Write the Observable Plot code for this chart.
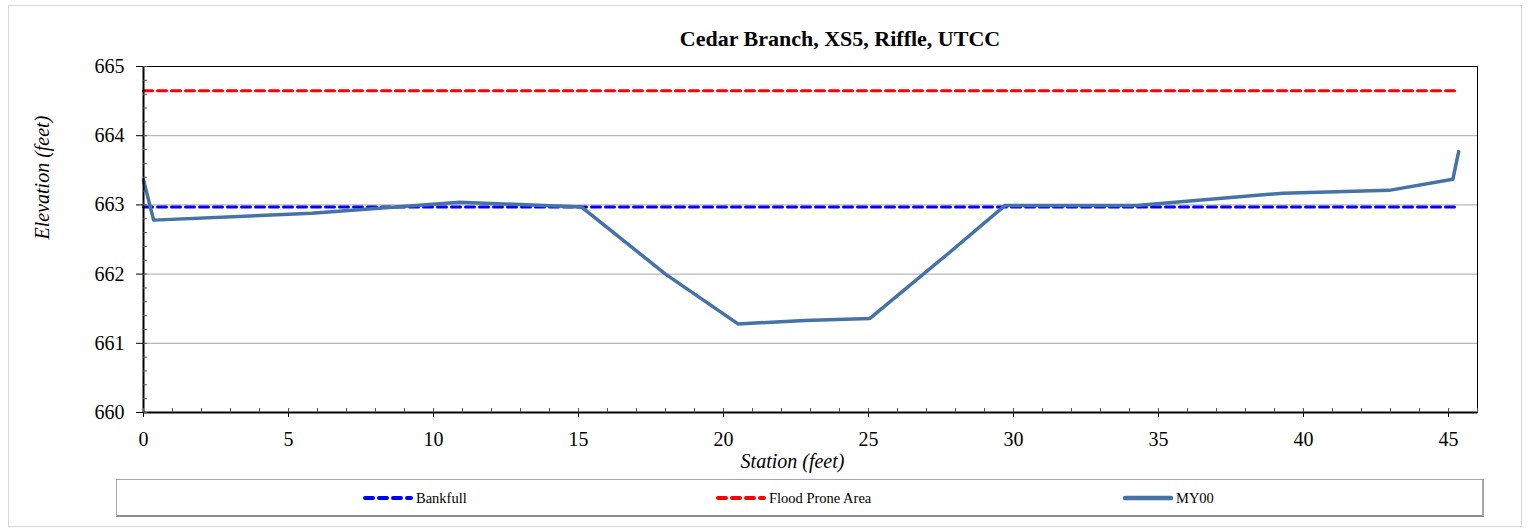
<!DOCTYPE html>
<html>
<head>
<meta charset="utf-8">
<script src="https://cdn.jsdelivr.net/npm/d3@7"></script>
<script src="https://cdn.jsdelivr.net/npm/@observablehq/plot@0.6"></script>
<style>
  body { margin: 0; background: #fff; font-family: "Liberation Serif", serif; }
  #wrap { position: relative; width: 1531px; height: 530px; overflow: hidden; font-family: "Liberation Serif", serif; }
  #outer { position: absolute; left: 8px; top: 5px; width: 1514px; height: 522px; border: 1px solid #d9d9d9; box-sizing: border-box; }
  #chart { position: absolute; left: 0; top: 0; }
  #chart svg, #chart svg text, #chart svg g { font-family: "Liberation Serif", serif !important; }
  #title { position: absolute; top: 26px; left: 840px; transform: translateX(-50%); font-family: "Liberation Serif", serif; font-weight: bold; font-size: 22px; white-space: nowrap; color: #000; }
  #legend { position: absolute; left: 116px; top: 479px; width: 1368px; height: 38px; border: 1px solid #a6a6a6; border-bottom: 2px solid #8c8c8c; border-right: 2px solid #a6a6a6; box-sizing: border-box; }
  .item { position: absolute; top: 0; height: 36px; display: flex; align-items: center; font-family: "Liberation Serif", serif; font-size: 14.5px; color: #000; white-space: nowrap; }
  .item svg { margin-right: 3px; }
</style>
</head>
<body>
<div id="wrap">
  <div id="outer"></div>
  <div id="chart"></div>
  <div id="title"></div>
  <div id="legend"></div>
</div>
<script>
// ---- data ----
const chartTitle = "Cedar Branch, XS5, Riffle, UTCC";
const xLabel = "Station (feet)";
const yLabel = "Elevation (feet)";
const stations   = [0, 0.35, 5.8, 10.9, 15.1, 18.0, 20.5, 22.8, 25.05, 27.7, 29.7, 34.25, 39.3, 42.95, 45.15, 45.35];
const elevations = [663.36, 662.78, 662.88, 663.04, 662.97, 662.0, 661.28, 661.33, 661.36, 662.28, 662.99, 662.99, 663.17, 663.21, 663.37, 663.77];
const bankfullElev = 662.97;
const floodElev = 664.65;
const levelStations = [0, 45.35];
const xTicks = [0, 5, 10, 15, 20, 25, 30, 35, 40, 45];
const yTicks = [660, 661, 662, 663, 664, 665];
const seriesNames = ["Bankfull", "Flood Prone Area", "MY00"];
const seriesColors = ["#0000ff", "#ff0000", "#4572a7"];

// ---- tables ----
const my00 = stations.map((s, i) => ({x: s, y: elevations[i]}));
const bankfull = levelStations.map(s => ({x: s, y: bankfullElev}));
const flood = levelStations.map(s => ({x: s, y: floodElev}));
const xMinor = d3.range(0, 47, 1);
const yMinor = d3.range(0, 26, 1).map(i => 660 + i * 0.2);

const serif = "'Liberation Serif', serif";
const plot = Plot.plot({
  width: 1531,
  height: 530,
  marginLeft: 143,
  marginRight: 54,
  marginTop: 66,
  marginBottom: 118,
  style: { fontFamily: serif, background: "transparent", color: "#000" },
  x: { domain: [0, 46] },
  y: { domain: [660, 665] },
  marks: [
    Plot.gridY([661, 662, 663, 664], { stroke: "#a6a6a6", strokeOpacity: 1, strokeWidth: 1 }),
    Plot.line(flood, { x: "x", y: "y", stroke: seriesColors[1], strokeWidth: 3, strokeDasharray: "9,5" }),
    Plot.line(bankfull, { x: "x", y: "y", stroke: seriesColors[0], strokeWidth: 3, strokeDasharray: "9,5" }),
    Plot.line(my00, { x: "x", y: "y", stroke: seriesColors[2], strokeWidth: 3.5, strokeLinejoin: "round" }),
    Plot.frame({ stroke: "#000", strokeWidth: 1 }),
    Plot.ruleX([0], { stroke: "#000", strokeWidth: 2 }),
    Plot.ruleY([660], { stroke: "#000", strokeWidth: 2 }),
    Plot.axisY(yTicks, { tickSize: 7, tickPadding: 12, fontSize: 20, fontFamily: serif, tickFormat: d => String(d), label: null }),
    Plot.axisY(yMinor, { tickSize: -4, tickFormat: () => "", label: null, stroke: "#555" }),
    Plot.axisX(xTicks, { tickSize: 5, tickPadding: 14, fontSize: 20, fontFamily: serif, tickFormat: d => String(d), label: null }),
    Plot.axisX(xMinor, { tickSize: -4, tickFormat: () => "", label: null, stroke: "#555" }),
    Plot.text([yLabel], { frameAnchor: "left", dx: -101, rotate: -90, fontStyle: "italic", fontSize: 20, fontFamily: serif }),
    Plot.text([xLabel], { frameAnchor: "bottom", dx: -18, dy: 55, fontStyle: "italic", fontSize: 20, fontFamily: serif })
  ]
});
document.getElementById("chart").appendChild(plot);
document.getElementById("title").textContent = chartTitle;

// ---- legend ----
const legend = document.getElementById("legend");
const itemLeft = [246, 599, 1006]; // relative to legend box
seriesNames.forEach((name, i) => {
  const div = document.createElement("div");
  div.className = "item";
  div.style.left = itemLeft[i] + "px";
  const dashed = i < 2;
  div.innerHTML =
    `<svg width="50" height="8"><line x1="2" y1="4" x2="48" y2="4" stroke="${seriesColors[i]}" stroke-width="${dashed ? 4 : 4.5}" stroke-linecap="round" ${dashed ? 'stroke-dasharray="8,6"' : ''}/></svg>` +
    `<span>${name}</span>`;
  legend.appendChild(div);
});
</script>
</body>
</html>
